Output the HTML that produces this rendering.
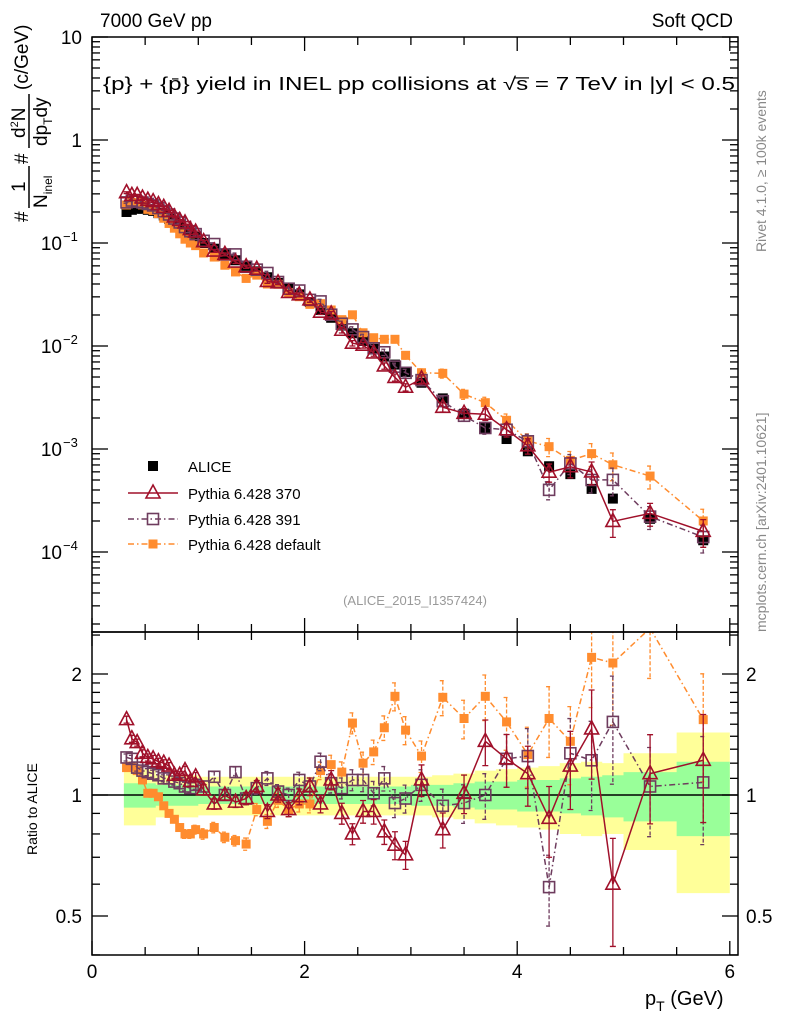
<!DOCTYPE html>
<html><head><meta charset="utf-8"><style>
body{margin:0;background:#fff}
svg{display:block;font-family:"Liberation Sans",sans-serif}
</style></head><body>
<svg id="chart" width="786" height="1024" viewBox="0 0 786 1024" xmlns="http://www.w3.org/2000/svg">
<defs>
<clipPath id="cm"><rect x="92" y="37" width="646" height="595"/></clipPath>
<clipPath id="cr"><rect x="92" y="632" width="646" height="323"/></clipPath>
</defs>
<text x="100" y="27" font-size="19">7000 GeV pp</text>
<text x="733" y="27" font-size="19" text-anchor="end">Soft QCD</text>
<text x="103" y="90" font-size="18" textLength="632" lengthAdjust="spacingAndGlyphs">{p} + {p̄} yield in INEL pp collisions at √s̅ =  7 TeV in |y| &lt; 0.5</text>
<text transform="translate(766,252) rotate(-90)" font-size="14" fill="#888">Rivet 4.1.0, ≥ 100k events</text>
<text transform="translate(766,632) rotate(-90)" font-size="14" fill="#888">mcplots.cern.ch [arXiv:2401.10621]</text>
<text x="415" y="605" font-size="13" fill="#999" text-anchor="middle">(ALICE_2015_I1357424)</text>
<g transform="translate(28,222) rotate(-90)" font-size="19">
<text x="0" y="0">#</text>
<text x="30" y="-3">1</text>
<line x1="14" y1="1" x2="56" y2="1" stroke="#000" stroke-width="1.5"/>
<text x="14" y="19">N<tspan font-size="12" dy="5">inel</tspan></text>
<text x="58" y="0">#</text>
<text x="84" y="-3">d<tspan font-size="11" dy="-7">2</tspan><tspan dy="7">N</tspan></text>
<line x1="74" y1="1" x2="128" y2="1" stroke="#000" stroke-width="1.5"/>
<text x="76" y="19">dp<tspan font-size="12" dy="5">T</tspan><tspan dy="-5">dy</tspan></text>
<text x="132" y="0">(c/GeV)</text>
</g>
<text transform="translate(37,855) rotate(-90)" font-size="14">Ratio to ALICE</text>
<text x="645" y="1005" font-size="20">p<tspan font-size="14" dy="6">T</tspan><tspan dy="-6"> (GeV)</tspan></text>
<g id="bands" clip-path="url(#cr)"></g>
<g id="ratio" clip-path="url(#cr)"></g>
<g id="main" clip-path="url(#cm)"></g>
<g id="axes"></g>
<g id="legend"></g>
</svg>
<script>
const pT=[0.325,0.375,0.425,0.475,0.525,0.575,0.625,0.675,0.725,0.775,0.825,0.875,0.925,0.975,1.05,1.15,1.25,1.35,1.45,1.55,1.65,1.75,1.85,1.95,2.05,2.15,2.25,2.35,2.45,2.55,2.65,2.75,2.85,2.95,3.1,3.3,3.5,3.7,3.9,4.1,4.3,4.5,4.7,4.9,5.25,5.75];
const binEdges=[0.3,0.35,0.4,0.45,0.5,0.55,0.6,0.65,0.7,0.75,0.8,0.85,0.9,0.95,1.0,1.1,1.2,1.3,1.4,1.5,1.6,1.7,1.8,1.9,2.0,2.1,2.2,2.3,2.4,2.5,2.6,2.7,2.8,2.9,3.0,3.2,3.4,3.6,3.8,4.0,4.2,4.4,4.6,4.8,5.0,5.5,6.0];
const alice=[0.20,0.21,0.215,0.215,0.21,0.205,0.195,0.185,0.172,0.16,0.148,0.136,0.125,0.115,0.100,0.088,0.0775,0.068,0.060,0.053,0.0465,0.041,0.036,0.0317,0.0267,0.0224,0.0188,0.0158,0.0133,0.0112,0.0094,0.0079,0.0066,0.0056,0.0044,0.0031,0.0022,0.0016,0.00125,0.00095,0.00068,0.00057,0.00041,0.00033,0.00021,0.00013];
const statErr=[0.07,0.07,0.07,0.07,0.07,0.07,0.06,0.06,0.06,0.06,0.06,0.06,0.06,0.06,0.05,0.05,0.05,0.05,0.05,0.05,0.05,0.05,0.05,0.05,0.05,0.05,0.05,0.05,0.05,0.05,0.05,0.05,0.05,0.05,0.06,0.06,0.07,0.08,0.08,0.09,0.09,0.10,0.11,0.12,0.14,0.21];
const totErr=[0.16,0.16,0.16,0.16,0.16,0.16,0.12,0.12,0.12,0.12,0.12,0.12,0.12,0.12,0.11,0.11,0.11,0.11,0.11,0.11,0.11,0.11,0.11,0.11,0.11,0.11,0.11,0.11,0.11,0.11,0.11,0.11,0.11,0.11,0.11,0.12,0.13,0.15,0.16,0.17,0.18,0.20,0.21,0.20,0.27,0.43];
const ratio370=[1.54,1.38,1.35,1.27,1.24,1.23,1.21,1.20,1.18,1.12,1.12,1.15,1.08,1.11,1.03,0.95,1.0,0.96,0.98,1.05,0.91,1.0,0.92,0.99,1.05,0.95,1.09,0.90,0.80,0.91,0.91,0.81,0.75,0.71,1.09,0.82,1.01,1.36,1.23,1.13,0.875,1.18,1.46,0.60,1.13,1.22];
const ratio391=[1.24,1.23,1.17,1.15,1.14,1.13,1.12,1.10,1.10,1.08,1.07,1.05,1.04,1.06,1.05,1.11,1.0,1.14,0.98,1.04,1.10,1.02,1.0,1.09,1.05,1.21,1.07,1.04,1.09,1.09,1.01,1.10,0.955,0.98,1.06,0.94,0.955,1.0,1.23,1.25,0.59,1.27,1.22,1.52,1.05,1.075];
const ratioDef=[1.17,1.18,1.15,1.09,1.01,1.01,0.99,0.94,0.90,0.87,0.83,0.80,0.80,0.82,0.80,0.83,0.785,0.77,0.755,0.92,0.86,0.97,0.92,0.95,0.95,1.15,1.19,1.14,1.51,1.20,1.28,1.47,1.76,1.45,1.25,1.75,1.55,1.76,1.52,1.26,1.55,1.36,2.20,2.13,2.6,1.54];
const mcErr=[0.02,0.02,0.02,0.02,0.02,0.02,0.02,0.02,0.02,0.02,0.02,0.025,0.025,0.025,0.03,0.03,0.03,0.03,0.035,0.035,0.04,0.04,0.04,0.045,0.05,0.05,0.055,0.06,0.06,0.065,0.07,0.07,0.08,0.08,0.09,0.10,0.11,0.13,0.15,0.17,0.20,0.22,0.25,0.30,0.25,0.30];
const xTicks=[0,2,4,6];
const ratioTicks=[0.5,1,2];

const NS="http://www.w3.org/2000/svg";
const X=p=>92+p*106.3;
const Y=v=>37+(1-Math.log10(v))*103;
const R=r=>795-Math.log2(r)*121;
function mk(tag,attrs,parent){const e=document.createElementNS(NS,tag);for(const k in attrs)e.setAttribute(k,attrs[k]);parent.appendChild(e);return e;}
const gB=document.getElementById('bands'),gR=document.getElementById('ratio'),gM=document.getElementById('main'),gA=document.getElementById('axes'),gL=document.getElementById('legend');

function band(errs,color,name){let top='',bot='';
 for(let i=0;i<pT.length;i++){const x0=X(binEdges[i]),x1=X(binEdges[i+1]);
  top+=(i?'L':'M')+x0+','+R(1+errs[i])+'L'+x1+','+R(1+errs[i]);
  bot='L'+x1+','+R(1-errs[i])+'L'+x0+','+R(1-errs[i])+bot;}
 const p=mk('path',{d:top+bot+'Z',fill:color},gB);
 
 }
band(totErr,'#ffff99','alice-total-uncertainty-band');
band(statErr,'#99ff99','alice-stat-uncertainty-band');
const one=mk('line',{x1:92,x2:738,y1:R(1),y2:R(1),stroke:'#000','stroke-width':1.5},gR);



function marker(g,type,x,y,color){
 if(type==='fsq')return mk('rect',{x:x-5,y:y-5,width:10,height:10,fill:color},g);
 if(type==='osq')return mk('rect',{x:x-5.5,y:y-5.5,width:11,height:11,fill:'none',stroke:color,'stroke-width':1.6},g);
 if(type==='ofsq')return mk('rect',{x:x-4.5,y:y-4.5,width:9,height:9,fill:color},g);
 return mk('path',{d:`M${x},${y-8}L${x+7},${y+5}L${x-7},${y+5}Z`,fill:'none',stroke:color,'stroke-width':1.6},g);}

const series=[
 {name:'pythia-370',ratio:ratio370,color:'#a0102a',dash:'',type:'tri'},
 {name:'pythia-391',ratio:ratio391,color:'#6e3c5e',dash:'6,3,1.5,3',type:'osq'},
 {name:'pythia-default',ratio:ratioDef,color:'#ff8c2e',dash:'6,3,1.5,3',type:'ofsq'}];

alice.forEach((v,i)=>{const m=marker(gM,'fsq',X(pT[i]),Y(v),'#000');
 
 });

series.slice().reverse().forEach(s=>{
 [[gM,i=>Y(alice[i]*s.ratio[i]),i=>Y(alice[i]*s.ratio[i]*(1+mcErr[i])),i=>Y(alice[i]*s.ratio[i]*Math.max(0.05,1-mcErr[i])),'main'],
  [gR,i=>R(s.ratio[i]),i=>R(s.ratio[i]*(1+mcErr[i])),i=>R(s.ratio[i]*Math.max(0.05,1-mcErr[i])),'ratio']].forEach(([g,fy,fu,fd,tag])=>{
  const d=pT.map((p,i)=>(i?'L':'M')+X(p)+','+fy(i)).join('');
  const l=mk('path',{d:d,fill:'none',stroke:s.color,'stroke-width':1.5,'stroke-dasharray':s.dash},g);
  
  
  pT.forEach((p,i)=>{const x=X(p);
   const e=mk('path',{d:`M${x},${fu(i)}L${x},${fd(i)}M${x-3},${fu(i)}L${x+3},${fu(i)}M${x-3},${fd(i)}L${x+3},${fd(i)}`,stroke:s.color,'stroke-width':1.3,'stroke-dasharray':s.dash?'4,2':''},g);
   
   
   const m=marker(g,s.type,x,fy(i),s.color);
   
   });
 });});

[[37,632],[632,955]].forEach(([y0,y1],k)=>{const f=mk('rect',{x:92,y:y0,width:646,height:y1-y0,fill:'none',stroke:'#000','stroke-width':1.5},gA);
 
 });
for(let t=0;t<=6.01;t+=0.5){const x=X(t);const L=(Math.abs(t-Math.round(t/2)*2)<1e-6)?14:8;
 [[955,-1],[632,-1],[632,1],[37,1]].forEach(([y,s])=>{const tk=mk('line',{x1:x,x2:x,y1:y,y2:y+s*L,stroke:'#000','stroke-width':1.3},gA);
  
  });}
xTicks.forEach(t=>{const tx=mk('text',{x:X(t),y:978,'font-size':19,'text-anchor':'middle'},gA);tx.textContent=t;
 
 });
for(let d=-5;d<=1;d++){for(let m=1;m<10;m++){const v=m*Math.pow(10,d);const y=Y(v);if(y<37||y>632)continue;const L=m===1?16:8;
 [[92,1],[738,-1]].forEach(([x,s])=>{const tk=mk('line',{x1:x,x2:x+s*L,y1:y,y2:y,stroke:'#000','stroke-width':1.3},gA);
  
  });}}
const yl=[[10,'10',''],[1,'1',''],[0.1,'10','−1'],[0.01,'10','−2'],[0.001,'10','−3'],[0.0001,'10','−4']];
yl.forEach(([v,b,e])=>{const t=mk('text',{x:e?62:82,y:Y(v)+7,'font-size':19,'text-anchor':'end'},gA);t.textContent=b;
 
 
 if(e){const s=mk('text',{x:63,y:Y(v)-2,'font-size':13},gA);s.textContent=e;
 
 }});
for(let v=0.4;v<=2.55;v+=(v<2?0.1:0.5)){const y=R(v);if(y<632||y>955)continue;const major=ratioTicks.some(t=>Math.abs(t-v)<1e-6);const L=major?16:8;
 [[92,1],[738,-1]].forEach(([x,s])=>{const tk=mk('line',{x1:x,x2:x+s*L,y1:y,y2:y,stroke:'#000','stroke-width':1.3},gA);
  
  });}
ratioTicks.forEach(v=>{[[82,'end'],[746,'start']].forEach(([x,a])=>{const t=mk('text',{x:x,y:R(v)+7,'font-size':19,'text-anchor':a},gA);t.textContent=v;
 
 });});

const leg=[['ALICE','#000','','fsq',466],['Pythia 6.428 370','#a0102a','','tri',493],['Pythia 6.428 391','#6e3c5e','6,3,1.5,3','osq',519],['Pythia 6.428 default','#ff8c2e','6,3,1.5,3','ofsq',544]];
leg.forEach(([label,c,dash,type,y],i)=>{
 if(i>0){const l=mk('line',{x1:128,x2:178,y1:y,y2:y,stroke:c,'stroke-width':1.5,'stroke-dasharray':dash},gL);
  
  }
 const m=marker(gL,type,153,y,c);
 
 
 const t=mk('text',{x:188,y:y+6,'font-size':15},gL);t.textContent=label;
 
 });
</script>
</body></html>
